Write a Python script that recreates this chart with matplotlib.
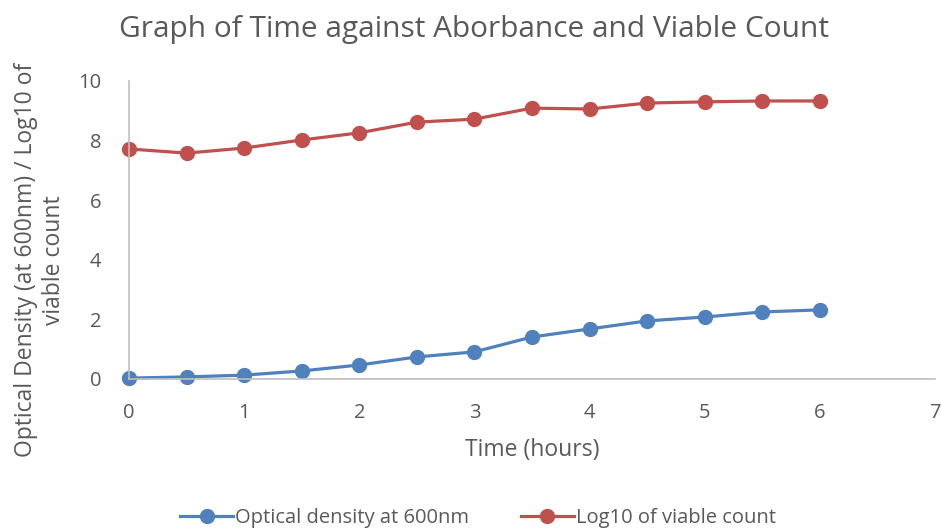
import matplotlib.pyplot as plt

# ---- data ----
time_hours = [0, 0.5, 1, 1.5, 2, 2.5, 3, 3.5, 4, 4.5, 5, 5.5, 6]
optical_density = [0.03, 0.07, 0.13, 0.27, 0.47, 0.74, 0.91, 1.41, 1.68, 1.95, 2.08, 2.25, 2.32]
log10_viable = [7.72, 7.58, 7.75, 8.02, 8.26, 8.62, 8.72, 9.09, 9.06, 9.26, 9.30, 9.33, 9.33]

x_ticks = [0, 1, 2, 3, 4, 5, 6, 7]
y_ticks = [0, 2, 4, 6, 8, 10]

plt.rcParams["font.family"] = ["Open Sans", "DejaVu Sans"]
text_color = "#595959"
blue = "#4F81BD"
red = "#C0504D"

fig = plt.figure(figsize=(9.41, 5.30), dpi=100)
ax = fig.add_axes([129 / 941, 1 - 379 / 530, (935 - 129) / 941, (379 - 81) / 530])

ax.plot(time_hours, optical_density, color=blue, linewidth=2.3,
        marker="o", markersize=10, label="Optical density at 600nm")
ax.plot(time_hours, log10_viable, color=red, linewidth=2.3,
        marker="o", markersize=10, label="Log10 of viable count")

ax.set_xlim(0, 7)
ax.set_ylim(0, 10)
ax.set_xticks(x_ticks)
ax.set_yticks(y_ticks)
ax.tick_params(length=0, labelsize=14.5, colors=text_color)
ax.tick_params(axis="x", pad=17)
ax.tick_params(axis="y", pad=20)

for side in ["top", "right"]:
    ax.spines[side].set_visible(False)
for side in ["left", "bottom"]:
    ax.spines[side].set_color("#BFBFBF")
    ax.spines[side].set_linewidth(1.2)
for p in ax.lines:
    p.set_clip_on(False)

fig.text(474 / 941, 1 - 29 / 530, "Graph of Time against Aborbance and Viable Count",
         ha="center", va="center", fontsize=21.5, color=text_color)
fig.text(532 / 941, 1 - 450 / 530, "Time (hours)",
         ha="center", va="center", fontsize=16.5, color=text_color)
fig.text(40 / 941, 1 - 260 / 530, "Optical Density (at 600nm) / Log10 of\nviable count",
         ha="center", va="center", rotation=90, fontsize=16.5, color=text_color,
         linespacing=1.2)

fig.legend(loc="center", bbox_to_anchor=(478 / 941, 1 - 518 / 530), ncol=2,
           frameon=False, fontsize=14.5, labelcolor=text_color,
           handlelength=2.6, columnspacing=2.6, handletextpad=0.1)

fig.savefig("out.png", dpi=100)
